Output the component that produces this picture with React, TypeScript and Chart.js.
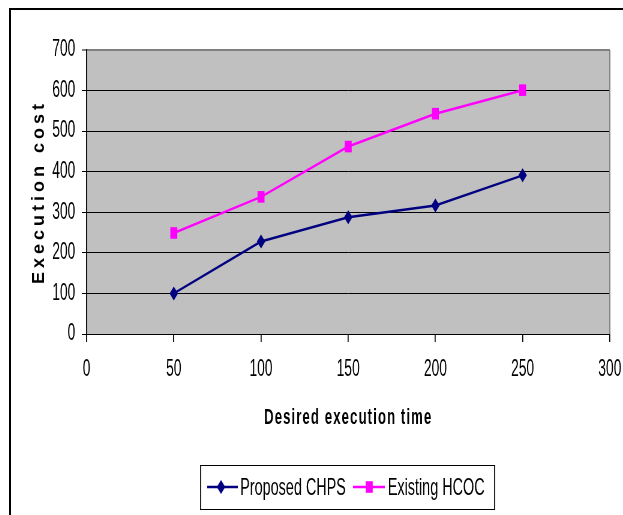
import React, { useEffect, useRef } from "react";
import { Chart, registerables } from "chart.js";

Chart.register(...registerables);

// ---- data ----
const DESIRED_TIME = [50, 100, 150, 200, 250];
const PROPOSED_CHPS = [100, 228, 288, 317, 391];
const EXISTING_HCOC = [249, 338, 462, 543, 601];
const SERIES_NAMES = ["Proposed CHPS", "Existing HCOC"];
const X_TITLE = "Desired execution time";
const Y_TITLE = "Execution cost";
const X_MIN = 0;
const X_MAX = 300;
const X_STEP = 50;
const Y_MIN = 0;
const Y_MAX = 700;
const Y_STEP = 100;

// horizontal compression of the whole drawing (the reference is squeezed sideways)
const SX = 0.6;
const W = 1020;
const H = 505;
const FONT = "'Liberation Sans', Arial, sans-serif";
const NAVY = "#000080";
const MAGENTA = "#FF00FF";

function drawMarker(ctx: CanvasRenderingContext2D, style: string, x: number, y: number, color: string) {
  ctx.save();
  ctx.fillStyle = color;
  ctx.beginPath();
  if (style === "rectRot") {
    const r = 7;
    ctx.moveTo(x, y - r);
    ctx.lineTo(x + r, y);
    ctx.lineTo(x, y + r);
    ctx.lineTo(x - r, y);
  } else {
    const s = 5.8;
    ctx.rect(x - s, y - s, 2 * s, 2 * s);
  }
  ctx.closePath();
  ctx.fill();
  ctx.restore();
}

const decorPlugin = {
  id: "decor",
  beforeDraw(chart: any) {
    const { ctx, chartArea: a } = chart;
    ctx.save();
    ctx.fillStyle = "#C0C0C0";
    ctx.fillRect(a.left, a.top, a.right - a.left, a.bottom - a.top);
    ctx.restore();
  },
  afterDraw(chart: any) {
    const { ctx, chartArea: a } = chart;
    ctx.save();
    // right frame of plot area
    ctx.strokeStyle = "#808080";
    ctx.lineWidth = 2;
    ctx.beginPath();
    ctx.moveTo(a.right, a.top);
    ctx.lineTo(a.right, a.bottom);
    ctx.stroke();

    // x title
    ctx.fillStyle = "#000";
    ctx.font = `bold 22px ${FONT}`;
    (ctx as any).letterSpacing = "1.8px";
    ctx.textAlign = "center";
    ctx.textBaseline = "middle";
    ctx.fillText(X_TITLE, (a.left + a.right) / 2, 408);

    // y title (counter-scaled so it is not squeezed)
    ctx.save();
    ctx.translate(46.7, 184);
    ctx.scale(1 / SX, 1);
    ctx.rotate(-Math.PI / 2);
    ctx.font = `bold 18px ${FONT}`;
    (ctx as any).letterSpacing = "4px";
    ctx.textAlign = "center";
    ctx.textBaseline = "middle";
    ctx.fillText(Y_TITLE, 2, 0);
    ctx.restore();

    // legend box
    (ctx as any).letterSpacing = "0px";
    const L = 315, T = 455, R = 807, B = 500;
    ctx.fillStyle = "#fff";
    ctx.fillRect(L, T, R - L, B - T);
    ctx.strokeStyle = "#000";
    ctx.lineWidth = 1;
    ctx.beginPath();
    ctx.moveTo(L, T + 0.5); ctx.lineTo(R, T + 0.5);
    ctx.moveTo(L, B - 0.5); ctx.lineTo(R, B - 0.5);
    ctx.stroke();
    ctx.lineWidth = 1.7;
    ctx.beginPath();
    ctx.moveTo(L + 1, T); ctx.lineTo(L + 1, B);
    ctx.moveTo(R - 1, T); ctx.lineTo(R - 1, B);
    ctx.stroke();

    const entries = [
      { x0: 327, x1: 378, m: 350, tx: 382 },
      { x0: 570, x1: 623, m: 597, tx: 628 },
    ];
    const ly = 477;
    chart.data.datasets.forEach((ds: any, i: number) => {
      const e = entries[i];
      ctx.strokeStyle = ds.borderColor;
      ctx.lineWidth = 2.5;
      ctx.beginPath();
      ctx.moveTo(e.x0, ly);
      ctx.lineTo(e.x1, ly);
      ctx.stroke();
      drawMarker(ctx, ds.pointStyle, e.m, ly, ds.borderColor);
      ctx.fillStyle = "#000";
      ctx.font = `24px ${FONT}`;
      ctx.textAlign = "left";
      ctx.textBaseline = "middle";
      ctx.fillText(ds.label, e.tx, ly + 1);
    });
    ctx.restore();
  },
};

export default function App() {
  const ref = useRef<HTMLCanvasElement>(null);

  useEffect(() => {
    const canvas = ref.current!;
    const chart = new Chart(canvas, {
      type: "line",
      data: {
        datasets: [
          {
            label: SERIES_NAMES[0],
            data: DESIRED_TIME.map((x, i) => ({ x, y: PROPOSED_CHPS[i] })),
            borderColor: NAVY,
            backgroundColor: NAVY,
            pointBackgroundColor: NAVY,
            pointBorderColor: NAVY,
            pointBorderWidth: 0,
            pointStyle: "rectRot",
            pointRadius: 7,
            borderWidth: 2.5,
            tension: 0,
          },
          {
            label: SERIES_NAMES[1],
            data: DESIRED_TIME.map((x, i) => ({ x, y: EXISTING_HCOC[i] })),
            borderColor: MAGENTA,
            backgroundColor: MAGENTA,
            pointBackgroundColor: MAGENTA,
            pointBorderColor: MAGENTA,
            pointBorderWidth: 0,
            pointStyle: "rect",
            pointRadius: 8.2,
            borderWidth: 2.5,
            tension: 0,
          },
        ],
      },
      options: {
        animation: false,
        responsive: false,
        devicePixelRatio: 1,
        layout: { padding: { top: 40, right: 22, bottom: 121, left: 0 } },
        plugins: { legend: { display: false }, tooltip: { enabled: false } },
        scales: {
          x: {
            type: "linear",
            min: X_MIN,
            max: X_MAX,
            afterFit: (s: any) => {
              s.height = 60;
              s.paddingLeft = 0;
              s.paddingRight = 0;
            },
            ticks: {
              stepSize: X_STEP,
              color: "#000",
              font: { family: FONT, size: 23 },
              padding: 14,
              maxRotation: 0,
            },
            grid: {
              drawOnChartArea: false,
              drawTicks: true,
              tickLength: 8,
              color: "#000",
              lineWidth: 1.7,
            },
            border: { display: true, color: "#000", width: 1 },
          },
          y: {
            min: Y_MIN,
            max: Y_MAX,
            afterFit: (s: any) => {
              s.width = 126;
              s.paddingTop = 0;
              s.paddingBottom = 0;
            },
            ticks: {
              stepSize: Y_STEP,
              color: "#000",
              font: { family: FONT, size: 23 },
              padding: 11,
            },
            grid: {
              color: (c: any) => (c.tick && c.tick.value === Y_MAX ? "#808080" : "#000"),
              lineWidth: (c: any) => (c.tick && c.tick.value === Y_MAX ? 2 : 1),
              tickLength: 8,
              drawTicks: true,
            },
            border: { display: true, color: "#000", width: 1.7 },
          },
        },
      },
      plugins: [decorPlugin],
    } as any);
    return () => chart.destroy();
  }, []);

  return (
    <div
      style={{
        position: "fixed",
        left: 9,
        top: 8,
        width: 612,
        height: 507,
        borderTop: "2px solid #000",
        borderLeft: "2px solid #000",
        overflow: "hidden",
        background: "#fff",
      }}
    >
      <canvas
        ref={ref}
        width={W}
        height={H}
        style={{
          display: "block",
          width: W + "px",
          height: H + "px",
          transform: `scaleX(${SX})`,
          transformOrigin: "left top",
        }}
      />
    </div>
  );
}
